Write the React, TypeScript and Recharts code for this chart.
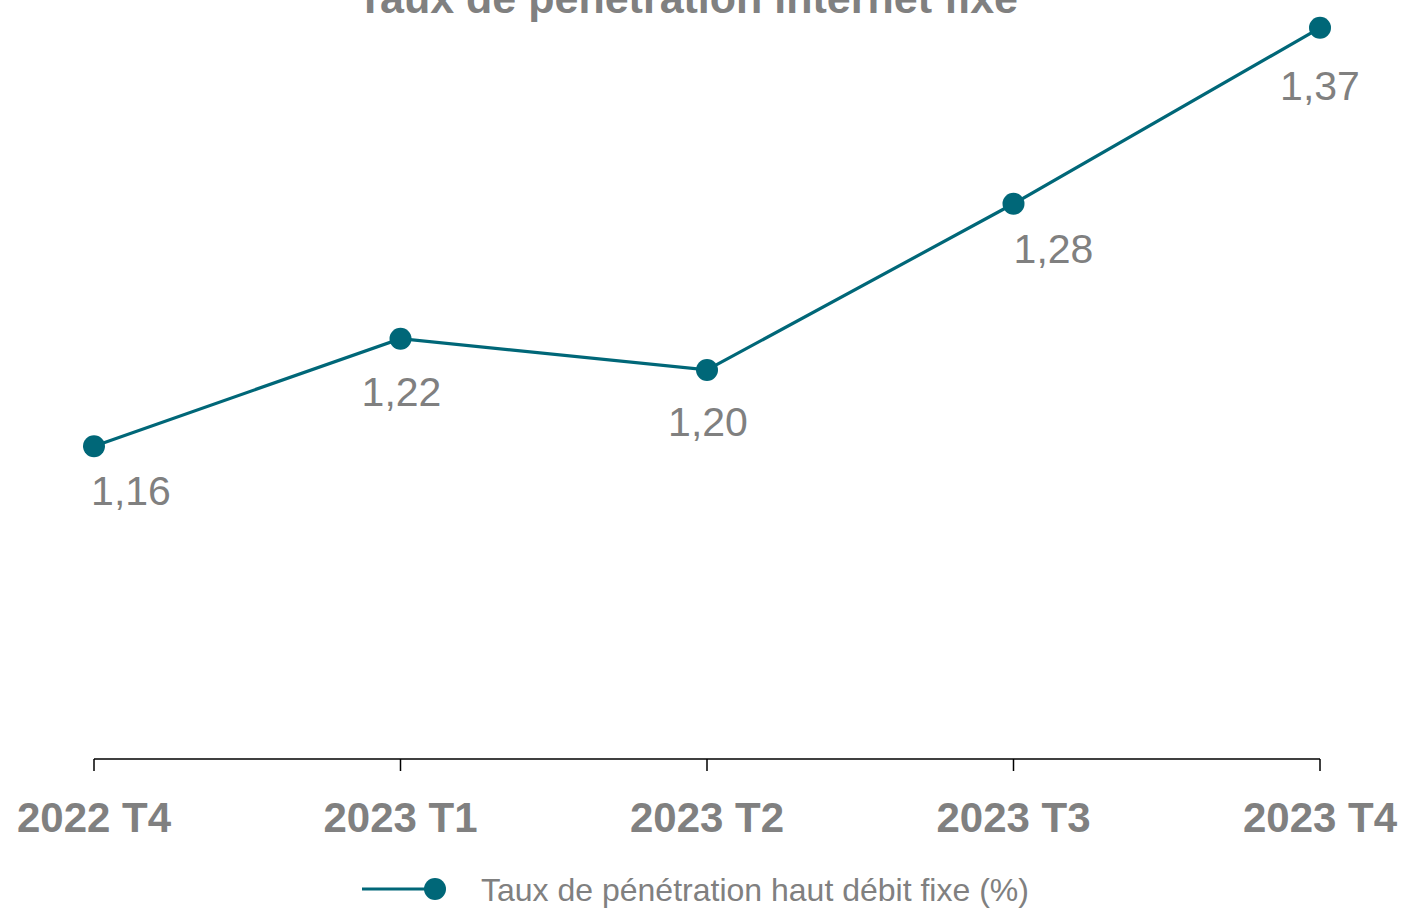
import { LineChart, Line, XAxis, YAxis, LabelList, Legend } from "recharts";

// quarters on the x axis
const quarters = ["2022 T4", "2023 T1", "2023 T2", "2023 T3", "2023 T4"];
// fixed broadband penetration rate (%)
const penetration = [1.16, 1.215, 1.199, 1.284, 1.374];

const TEAL = "#006778";
const GREY = "#808080";
const FONT = "'Liberation Sans', Arial, sans-serif";

// hand-placed label nudges (the source moved a couple of labels to the right)
const labelDx = [37, 1, 1, 40, 0];
const labelDy = [59, 67, 66, 59, 72];

const data = quarters.map((q, i) => ({ quarter: q, rate: penetration[i] }));

const fmt = (v: number) => v.toFixed(2).replace(".", ",");

function PointLabel(props: any) {
  const { x, y, value, index } = props;
  if (x == null || y == null) return null;
  return (
    <text
      x={x + labelDx[index]}
      y={y + labelDy[index]}
      textAnchor="middle"
      fill={GREY}
      fontSize={41}
      fontFamily={FONT}
    >
      {fmt(Number(value))}
    </text>
  );
}

function QuarterTick(props: any) {
  const { x, y, payload } = props;
  return (
    <text
      x={x}
      y={y}
      dy={61}
      textAnchor="middle"
      fill={GREY}
      fontSize={42}
      fontWeight="bold"
      fontFamily={FONT}
    >
      {payload.value}
    </text>
  );
}

function LegendBox() {
  return (
    <svg width={1404} height={60} style={{ display: "block" }}>
      <line x1={362} x2={435} y1={29} y2={29} stroke={TEAL} strokeWidth={3} />
      <circle cx={435} cy={29} r={11} fill={TEAL} />
      <text x={481} y={41} fill={GREY} fontSize={32} fontFamily={FONT}>
        Taux de pénétration haut débit fixe (%)
      </text>
    </svg>
  );
}

export default function App() {
  return (
    <div
      style={{
        position: "absolute",
        left: 0,
        top: 0,
        width: 1404,
        height: 910,
        overflow: "hidden",
        background: "#fff",
      }}
    >
      <div
        style={{
          position: "absolute",
          left: 0,
          top: -23,
          width: 1375,
          textAlign: "center",
          fontFamily: FONT,
          fontWeight: "bold",
          fontSize: 43,
          lineHeight: "42px",
          color: GREY,
          zIndex: 2,
          whiteSpace: "nowrap",
        }}
      >
        Taux de pénétration internet fixe
      </div>
      <div style={{ position: "absolute", left: 0, top: -40 }}>
        <LineChart
          width={1404}
          height={950}
          data={data}
          margin={{ top: 17, right: 84, bottom: 51, left: 94 }}
        >
          <XAxis
            dataKey="quarter"
            height={100}
            axisLine={{ stroke: "#000", strokeWidth: 1.5 }}
            tickLine={{ stroke: "#000", strokeWidth: 1.5 }}
            tickSize={12}
            tickMargin={0}
            tick={<QuarterTick />}
            interval={0}
          />
          <YAxis hide domain={[1.0, 1.4]} />
          <Line
            type="linear"
            dataKey="rate"
            stroke={TEAL}
            strokeWidth={3.2}
            dot={{ r: 11, fill: TEAL, stroke: "none" }}
            activeDot={false}
            isAnimationActive={false}
            name="Taux de pénétration haut débit fixe (%)"
          >
            <LabelList dataKey="rate" content={<PointLabel />} />
          </Line>
          <Legend
            verticalAlign="middle"
            align="center"
            wrapperStyle={{ top: 900, left: 0, width: 1404 }}
            content={<LegendBox />}
          />
        </LineChart>
      </div>
    </div>
  );
}
